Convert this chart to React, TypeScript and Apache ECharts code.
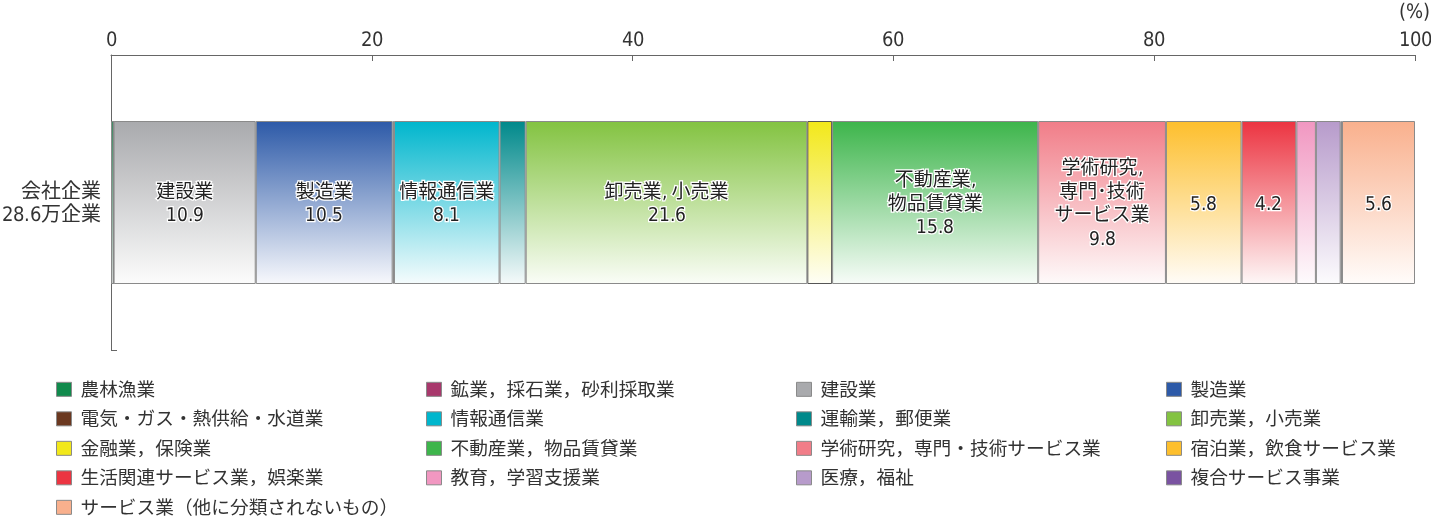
import React, { useEffect, useRef } from "react";
import * as echarts from "echarts";

const categories = ["会社企業\n28.6万企業"];
const industryNames = [
  "農林漁業",
  "鉱業，採石業，砂利採取業",
  "建設業",
  "製造業",
  "電気・ガス・熱供給・水道業",
  "情報通信業",
  "運輸業，郵便業",
  "卸売業，小売業",
  "金融業，保険業",
  "不動産業，物品賃貸業",
  "学術研究，専門・技術サービス業",
  "宿泊業，飲食サービス業",
  "生活関連サービス業，娯楽業",
  "教育，学習支援業",
  "医療，福祉",
  "複合サービス事業",
  "サービス業（他に分類されないもの）",
];
const shares = [0.2, 0.0, 10.9, 10.5, 0.1, 8.1, 2.0, 21.6, 1.9, 15.8, 9.8, 5.8, 4.2, 1.5, 1.9, 0.1, 5.6];
const colors = [
  "#108a4c", "#a8386c", "#a9aaad", "#2d5aa8", "#6b3820", "#00b6cd", "#00898b", "#83c341", "#f2e81a",
  "#3db54b", "#f17d88", "#fdbf2d", "#ec3441", "#f197c1", "#b79bcb", "#7a53a1", "#f9b08d",
];
// text shown inside the bar; the value is appended from the data
const barLabels = [
  "", "", "建設業\n", "製造業\n", "", "情報通信業\n", "", "卸売業, 小売業\n", "",
  "不動産業,\n物品賃貸業\n", "学術研究,\n専門･技術\nサービス業\n", "", "", "", "", "", "",
];
const showValue = [false, false, true, true, false, true, false, true, false, true, true, true, true, false, false, false, true];
const xTicks = { min: 0, max: 100, interval: 20 };

const FONT = "'CondX','Noto Sans CJK JP',sans-serif";

function mixWhite(hex: string, t: number) {
  const n = parseInt(hex.slice(1), 16);
  const r = (n >> 16) & 255, g = (n >> 8) & 255, b = n & 255;
  const m = (c: number) => Math.round(c + (255 - c) * t);
  return `rgb(${m(r)},${m(g)},${m(b)})`;
}

export default function App() {
  const ref = useRef<HTMLDivElement>(null);
  useEffect(() => {
    let chart: echarts.ECharts | null = null;
    let disposed = false;
    const style = document.createElement("style");
    style.textContent =
      "@font-face{font-family:'CondX';src:local('Liberation Sans Narrow'),local('LiberationSansNarrow-Regular'),local('DejaVu Sans Condensed'),local('DejaVuSansCondensed');}";
    document.head.appendChild(style);

    const draw = () => {
      if (disposed || !ref.current) return;
      chart = echarts.init(ref.current, undefined, { renderer: "svg" });
      const series = industryNames.map((name, i) => ({
        name,
        type: "bar",
        stack: "total",
        barWidth: 163,
        data: [shares[i]],
        itemStyle: {
          color: new echarts.graphic.LinearGradient(0, 0, 0, 1, [
            { offset: 0, color: colors[i] },
            { offset: 1, color: mixWhite(colors[i], 0.96) },
          ]),
          borderColor: i === 8 ? "#555" : "#8a8a8a",
          borderWidth: 1,
        },
        label: {
          show: showValue[i],
          position: "inside",
          formatter: barLabels[i] + "{c}",
          fontFamily: FONT,
          fontSize: 19,
          lineHeight: 23.5,
          color: "#222",
          textBorderColor: "#fff",
          textBorderWidth: 2.5,
        },
        emphasis: { disabled: true },
      }));
      const colLeft = [56, 426, 796, 1166];
      const legends = industryNames.map((name, i) => ({
        show: true,
        orient: "horizontal",
        left: colLeft[i % 4],
        top: 380 + Math.floor(i / 4) * 29.5,
        padding: 0,
        itemWidth: 15,
        itemHeight: 14,
        icon: "rect",
        selectedMode: false,
        data: [
          {
            name,
            itemStyle: { color: colors[i], borderColor: "#8a8a8a", borderWidth: 1 },
          },
        ],
        textStyle: {
          fontFamily: FONT,
          fontSize: 18.7,
          lineHeight: 18,
          color: "#333",
          padding: [0, 0, 0, 4],
        },
      }));
      chart.setOption({
        animation: false,
        grid: { left: 111, right: 16, top: 55, bottom: 169, containLabel: false, outerBoundsMode: "none" },
        xAxis: {
          type: "value",
          position: "top",
          min: xTicks.min,
          max: xTicks.max,
          interval: xTicks.interval,
          axisLine: { show: true, lineStyle: { color: "#666", width: 1 } },
          axisTick: { show: true, inside: true, length: 6, lineStyle: { color: "#666" } },
          splitLine: { show: false },
          axisLabel: { fontFamily: FONT, fontSize: 19.5, color: "#333", margin: 6 },
        },
        yAxis: {
          type: "category",
          data: categories,
          axisLine: { show: true, lineStyle: { color: "#666", width: 1 } },
          axisTick: { show: true, inside: true, length: 6, lineStyle: { color: "#666" } },
          axisLabel: { fontFamily: FONT, fontSize: 20, lineHeight: 23.5, color: "#333", margin: 10 },
        },
        legend: legends,
        graphic: [
          {
            type: "text",
            right: 1,
            top: 2,
            style: { text: "(%)", fontFamily: FONT, fontSize: 19.5, fill: "#333" },
          },
        ],
        series,
      });
    };

    const fontsApi = (document as any).fonts;
    if (fontsApi && fontsApi.load) {
      fontsApi.load("20px CondX").then(draw, draw);
    } else {
      draw();
    }
    return () => {
      disposed = true;
      if (chart) chart.dispose();
      style.remove();
    };
  }, []);
  return <div ref={ref} style={{ position: "fixed", left: 0, top: 0, width: 1431, height: 519 }} />;
}
